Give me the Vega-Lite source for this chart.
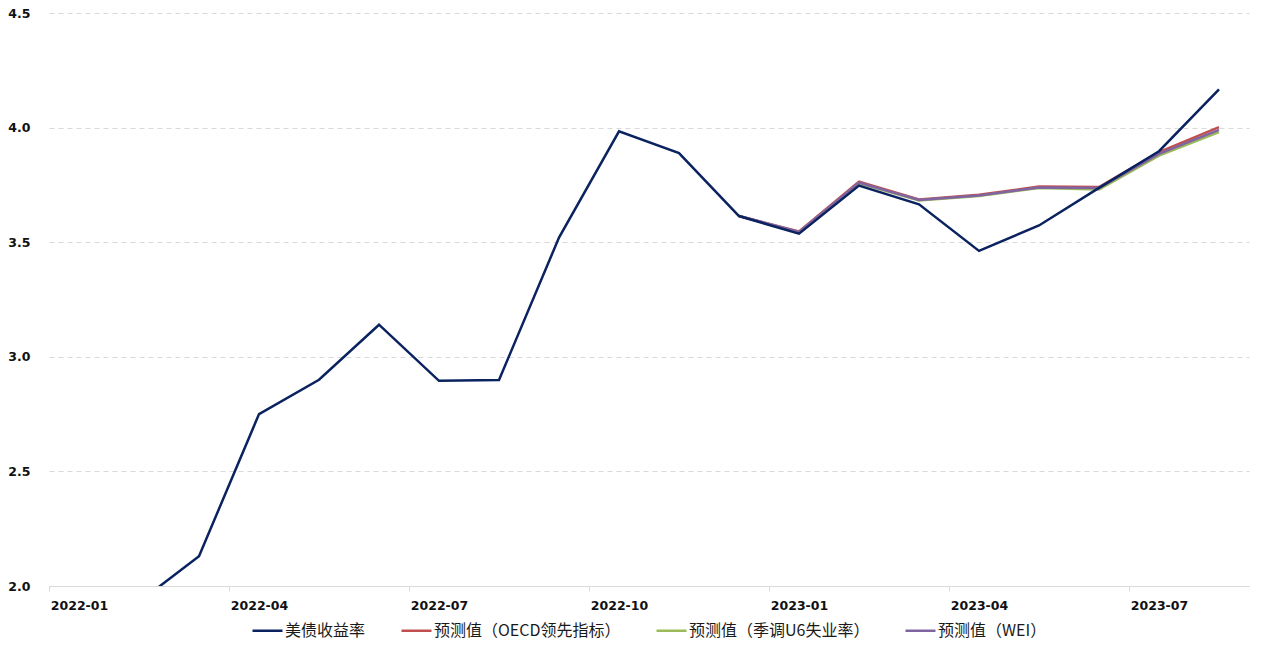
{
  "$schema": "https://vega.github.io/schema/vega-lite/v6.json",
  "width": 1200,
  "height": 573,
  "autosize": {"type": "none"},
  "padding": {"left": 49, "top": 13, "right": 18, "bottom": 64},
  "background": "white",
  "data": {
    "values": [
      {"month": "2022-12", "series": "预测值（OECD领先指标）", "value": 3.614},
      {"month": "2023-01", "series": "预测值（OECD领先指标）", "value": 3.547},
      {"month": "2023-02", "series": "预测值（OECD领先指标）", "value": 3.764},
      {"month": "2023-03", "series": "预测值（OECD领先指标）", "value": 3.686},
      {"month": "2023-04", "series": "预测值（OECD领先指标）", "value": 3.707},
      {"month": "2023-05", "series": "预测值（OECD领先指标）", "value": 3.743},
      {"month": "2023-06", "series": "预测值（OECD领先指标）", "value": 3.741},
      {"month": "2023-07", "series": "预测值（OECD领先指标）", "value": 3.893},
      {"month": "2023-08", "series": "预测值（OECD领先指标）", "value": 4.002},
      {"month": "2022-12", "series": "预测值（季调U6失业率）", "value": 3.614},
      {"month": "2023-01", "series": "预测值（季调U6失业率）", "value": 3.543},
      {"month": "2023-02", "series": "预测值（季调U6失业率）", "value": 3.757},
      {"month": "2023-03", "series": "预测值（季调U6失业率）", "value": 3.682},
      {"month": "2023-04", "series": "预测值（季调U6失业率）", "value": 3.702},
      {"month": "2023-05", "series": "预测值（季调U6失业率）", "value": 3.736},
      {"month": "2023-06", "series": "预测值（季调U6失业率）", "value": 3.730},
      {"month": "2023-07", "series": "预测值（季调U6失业率）", "value": 3.878},
      {"month": "2023-08", "series": "预测值（季调U6失业率）", "value": 3.980},
      {"month": "2022-12", "series": "预测值（WEI）", "value": 3.614},
      {"month": "2023-01", "series": "预测值（WEI）", "value": 3.545},
      {"month": "2023-02", "series": "预测值（WEI）", "value": 3.760},
      {"month": "2023-03", "series": "预测值（WEI）", "value": 3.684},
      {"month": "2023-04", "series": "预测值（WEI）", "value": 3.704},
      {"month": "2023-05", "series": "预测值（WEI）", "value": 3.739},
      {"month": "2023-06", "series": "预测值（WEI）", "value": 3.736},
      {"month": "2023-07", "series": "预测值（WEI）", "value": 3.885},
      {"month": "2023-08", "series": "预测值（WEI）", "value": 3.990},
      {"month": "2022-01", "series": "美债收益率", "value": 1.76},
      {"month": "2022-02", "series": "美债收益率", "value": 1.93},
      {"month": "2022-03", "series": "美债收益率", "value": 2.13},
      {"month": "2022-04", "series": "美债收益率", "value": 2.75},
      {"month": "2022-05", "series": "美债收益率", "value": 2.90},
      {"month": "2022-06", "series": "美债收益率", "value": 3.14},
      {"month": "2022-07", "series": "美债收益率", "value": 2.895},
      {"month": "2022-08", "series": "美债收益率", "value": 2.899},
      {"month": "2022-09", "series": "美债收益率", "value": 3.52},
      {"month": "2022-10", "series": "美债收益率", "value": 3.984},
      {"month": "2022-11", "series": "美债收益率", "value": 3.889},
      {"month": "2022-12", "series": "美债收益率", "value": 3.614},
      {"month": "2023-01", "series": "美债收益率", "value": 3.537},
      {"month": "2023-02", "series": "美债收益率", "value": 3.747},
      {"month": "2023-03", "series": "美债收益率", "value": 3.665},
      {"month": "2023-04", "series": "美债收益率", "value": 3.462},
      {"month": "2023-05", "series": "美债收益率", "value": 3.573},
      {"month": "2023-06", "series": "美债收益率", "value": 3.737},
      {"month": "2023-07", "series": "美债收益率", "value": 3.897},
      {"month": "2023-08", "series": "美债收益率", "value": 4.167}
    ]
  },
  "mark": {"type": "line", "strokeWidth": 2.5, "clip": true, "strokeJoin": "miter"},
  "encoding": {
    "x": {
      "field": "month",
      "type": "ordinal",
      "sort": "ascending",
      "scale": {"type": "point", "padding": 0.5},
      "axis": {
        "title": null,
        "values": ["2022-01", "2022-04", "2022-07", "2022-10", "2023-01", "2023-04", "2023-07"],
        "labelAngle": 0,
        "labelFont": "DejaVu Sans",
        "labelFontWeight": "bold",
        "labelFontSize": 12.5,
        "labelColor": "#111111",
        "labelPadding": 8,
        "tickOffset": -30,
        "labelOffset": 30,
        "tickSize": 5,
        "tickColor": "#d9d9d9",
        "domainColor": "#d9d9d9",
        "domainWidth": 1,
        "grid": false
      }
    },
    "y": {
      "field": "value",
      "type": "quantitative",
      "scale": {"domain": [2, 4.5], "nice": false, "zero": false},
      "axis": {
        "title": null,
        "values": [2, 2.5, 3, 3.5, 4, 4.5],
        "format": ".1f",
        "labelFont": "DejaVu Sans",
        "labelFontWeight": "bold",
        "labelFontSize": 12.5,
        "labelColor": "#111111",
        "labelPadding": 19,
        "ticks": false,
        "domain": false,
        "grid": true,
        "gridColor": "#d9d9d9",
        "gridDash": [5, 4],
        "gridWidth": 1
      }
    },
    "color": {
      "field": "series",
      "type": "nominal",
      "scale": {
        "domain": ["美债收益率", "预测值（OECD领先指标）", "预测值（季调U6失业率）", "预测值（WEI）"],
        "range": ["#0a2260", "#c0504d", "#9bbb59", "#8064a2"]
      },
      "legend": {
        "title": null,
        "orient": "bottom",
        "direction": "horizontal",
        "symbolType": "stroke",
        "symbolSize": 900,
        "symbolStrokeWidth": 2.5,
        "labelOffset": 1,
        "labelLimit": 0,
        "columnPadding": 30,
        "labelFont": "Noto Sans CJK SC",
        "labelFontSize": 16,
        "labelColor": "#1a1a1a",
        "offset": 2
      }
    }
  },
  "config": {
    "view": {"stroke": null},
    "legend": {"layout": {"bottom": {"anchor": "middle"}}}
  }
}
